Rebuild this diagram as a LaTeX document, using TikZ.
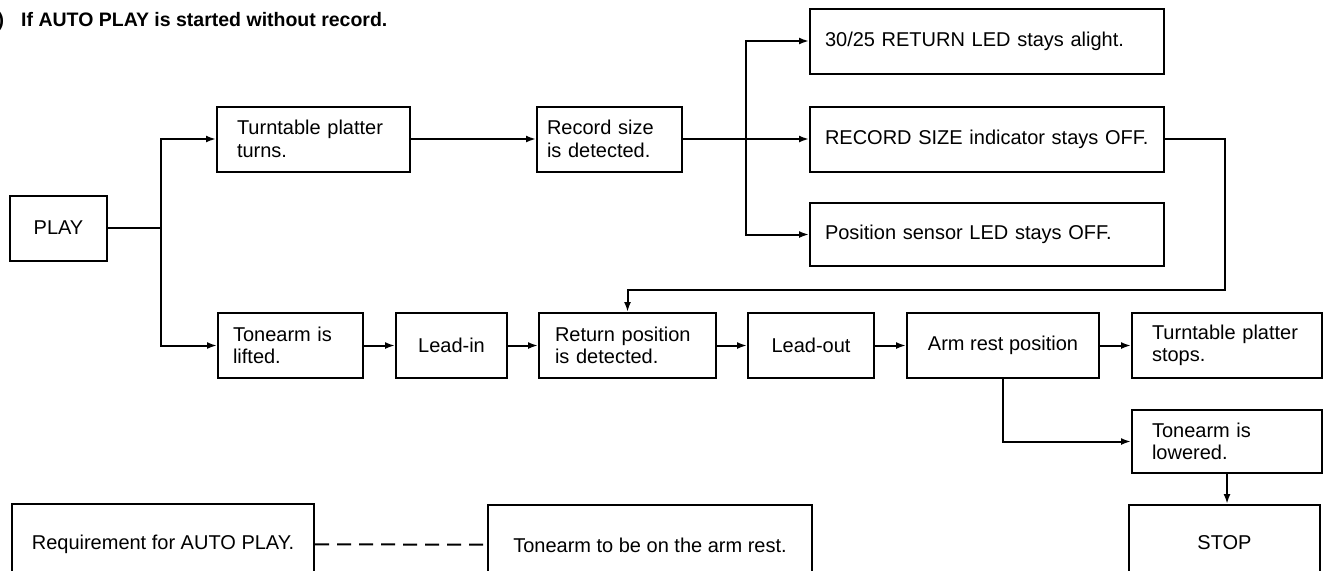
\documentclass[tikz,border=0pt]{standalone}
\usepackage{fontspec}
\setmainfont{Liberation Sans}
\usetikzlibrary{positioning,arrows.meta}

\newcommand\boxfont{\fontsize{20}{22.5}\selectfont}
\newcommand\titlefont{\fontsize{19.5}{22}\selectfont\bfseries}

\begin{document}
\begin{tikzpicture}[x=1pt, y=-1pt,
  box/.style={draw, line width=2pt, minimum height=65pt, inner ysep=0pt, font=\boxfont},
  cbox/.style={box, align=center, minimum width=#1},
  lbox/.style 2 args={box, align=left, text width=#1, inner xsep=#2},
  flow/.style={line width=2pt, -{Latex[length=10pt,width=7pt]}},
  link/.style={line width=2pt}]
  \useasboundingbox (0,0) rectangle (1324,570);

  % Title
  \node [anchor=base west, font=\titlefont, inner sep=0pt] (title) at (21,27) {\llap{)\hspace{17pt}}If AUTO PLAY is started without record.};

  % Upper branch
  \node [cbox=97pt] (play) at (58.5,228) {PLAY};
  \node [lbox={153pt}{20pt}] (turns) at (313.5,139) {Turntable platter\\turns.};
  \node [lbox={125pt}{10pt}] (size) at (609.5,139) {Record size\\is detected.};
  \node [lbox={324pt}{15pt}] (ledret) at (987,41) {30/25 RETURN LED stays alight.};
  \node [lbox={324pt}{15pt}] (sizeind) at (987,139) {RECORD SIZE indicator stays OFF.};
  \node [lbox={324pt}{15pt}, minimum height=63pt] (sensor) at (987,234.5) {Position sensor LED stays OFF.};

  % Lower branch
  \node [lbox={115pt}{15pt}] (lifted) at (290.5,345.5) {Tonearm is\\lifted.};
  \node [cbox=111pt, right=31pt of lifted] (leadin) {Lead-in};
  \node [lbox={145pt}{16pt}, right=30pt of leadin] (retpos) {Return position\\is detected.};
  \node [cbox=126pt, right=30pt of retpos] (leadout) {Lead-out};
  \node [cbox=192pt, right=31pt of leadout] (armrest) {Arm rest position};
  \node [lbox={150pt}{20pt}, right=31pt of armrest] (stops) {Turntable platter\\stops.};
  \node [lbox={150pt}{20pt}, minimum height=63pt] (lowered) at (1227,441.5) {Tonearm is\\lowered.};
  \node [cbox=191pt, minimum height=76pt] (stop) at (1224.5,543) {STOP};

  % Requirement
  \node [cbox=302pt, minimum height=80pt] (req) at (163,544) {Requirement for AUTO PLAY.};
  \node [cbox=324pt, minimum height=80pt] (onrest) at (650,545) {Tonearm to be on the arm rest.};

  % Connectors
  \coordinate (fork) at (161,228);
  \draw [link] (play) -- (fork);
  \draw [flow] (fork) |- (turns);
  \draw [flow] (fork) |- (lifted);
  \draw [flow] (turns) -- (size);
  \coordinate (split) at (746,139);
  \draw [link] (size) -- (split);
  \draw [flow] (split) |- (ledret);
  \draw [flow] (split) -- (sizeind);
  \draw [flow] (split) |- (sensor);
  \coordinate (loop) at (1225,290);
  \draw [flow] (sizeind) -| (loop) -| (retpos);
  \draw [flow] (lifted) -- (leadin);
  \draw [flow] (leadin) -- (retpos);
  \draw [flow] (retpos) -- (leadout);
  \draw [flow] (leadout) -- (armrest);
  \draw [flow] (armrest) -- (stops);
  \draw [flow] (armrest) |- (lowered);
  \draw [flow] (lowered) -- (lowered.south |- stop.north);
  \draw [link, dash pattern=on 14pt off 8pt] (req) -- (onrest);
\end{tikzpicture}
\end{document}
